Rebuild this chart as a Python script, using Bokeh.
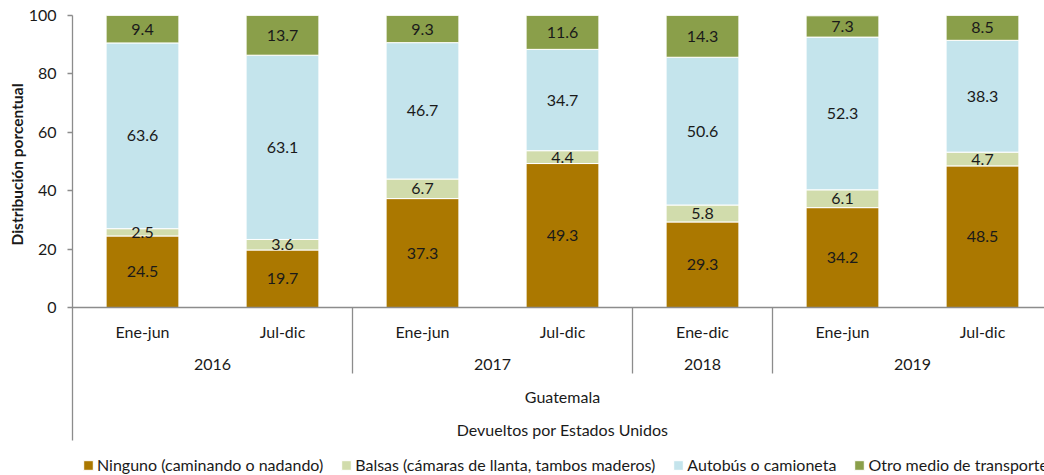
from bokeh.plotting import figure
from bokeh.models import (Range1d, FixedTicker, Legend, LegendItem, Title,
                          ColumnDataSource, Span)
from bokeh.core.properties import value
from bokeh.embed import file_html
from bokeh.resources import INLINE

# ---------------- data ----------------
years = ["2016", "2017", "2018", "2019"]
year_periods = [2, 2, 1, 2]
periods = ["Ene-jun", "Jul-dic", "Ene-jun", "Jul-dic", "Ene-dic", "Ene-jun", "Jul-dic"]
country = "Guatemala"
group = "Devueltos por Estados Unidos"

series = ["Ninguno (caminando o nadando)",
          "Balsas (cámaras de llanta, tambos maderos)",
          "Autobús o camioneta",
          "Otro medio de transporte"]
ninguno = [24.5, 19.7, 37.3, 49.3, 29.3, 34.2, 48.5]
balsas = [2.5, 3.6, 6.7, 4.4, 5.8, 6.1, 4.7]
autobus = [63.6, 63.1, 46.7, 34.7, 50.6, 52.3, 38.3]
otro = [9.4, 13.7, 9.3, 11.6, 14.3, 7.3, 8.5]
y_ticks = [0, 20, 40, 60, 80, 100]
y_title = "Distribución porcentual"

colors = ["#AB7800", "#D1DCAC", "#C4E4EC", "#8A9F4A"]
FONT = "Lato"
TXT = "#1a1a1a"
GRID = "#8c8c8c"

# ---------------- figure ----------------
W, H = 1044, 475
LEFT, TOP = 72, 15
PX_PER_CAT = 140.0
PX_PER_UNIT = 2.92
frame_w = W - LEFT
frame_h = H - TOP
y_top = 100
y_bottom = y_top - frame_h / PX_PER_UNIT
p = figure(width=W, height=H, output_backend="svg", toolbar_location=None,
           x_range=Range1d(0, frame_w / PX_PER_CAT), y_range=Range1d(y_bottom, y_top),
           x_axis_location=None, min_border_left=LEFT, min_border_right=0,
           min_border_top=TOP, min_border_bottom=0)
p.outline_line_color = None
p.xgrid.visible = False
p.ygrid.visible = False

xs = [i + 0.5 for i in range(len(periods))]
src = ColumnDataSource(dict(x=xs, s0=ninguno, s1=balsas, s2=autobus, s3=otro))
rs = p.vbar_stack(["s0", "s1", "s2", "s3"], x="x", width=0.52, source=src,
                  color=colors, line_color="white", line_width=1)

# value labels at the middle of every segment
lx, ly, lt = [], [], []
for i, x in enumerate(xs):
    base = 0.0
    for vals in (ninguno, balsas, autobus, otro):
        v = vals[i]
        lx.append(x)
        ly.append(base + v / 2)
        lt.append(f"{v:.1f}")
        base += v
p.text(x=lx, y=ly, text=lt, text_align="center", text_baseline="middle",
       text_font=value(FONT), text_font_size="16px", text_color=TXT)

# category axis (multi-level) drawn below y=0
p.add_layout(Span(location=0, dimension="width", line_color=GRID, line_width=1.3))
bounds = []
acc = 0
for n in year_periods:
    acc += n
    bounds.append(acc)
inner = [b for b in bounds[:-1]]
p.segment(x0=inner, x1=inner, y0=[0] * len(inner), y1=[-22.6] * len(inner),
          line_color=GRID, line_width=1.3)

p.text(x=xs, y=[-8.2] * len(xs), text=periods, text_align="center",
       text_baseline="middle", text_font=value(FONT), text_font_size="16px",
       text_color=TXT)
ycent = []
start = 0
for n in year_periods:
    ycent.append(start + n / 2)
    start += n
p.text(x=ycent, y=[-19.5] * len(ycent), text=years, text_align="center",
       text_baseline="middle", text_font=value(FONT), text_font_size="16px",
       text_color=TXT)
total = sum(year_periods)
p.text(x=[total / 2], y=[-30.5], text=[country], text_align="center",
       text_baseline="middle", text_font=value(FONT), text_font_size="16px",
       text_color=TXT)
p.text(x=[total / 2], y=[-41.8], text=[group], text_align="center",
       text_baseline="middle", text_font=value(FONT), text_font_size="16px",
       text_color=TXT)

# y axis
ya = p.yaxis[0]
ya.ticker = FixedTicker(ticks=y_ticks)
ya.bounds = (-45.55, 100)
ya.major_tick_out = 5
ya.major_tick_in = 0
ya.minor_tick_out = 0
ya.minor_tick_in = 0
ya.axis_line_color = GRID
ya.axis_line_width = 1.3
ya.major_tick_line_color = GRID
ya.major_tick_line_width = 1.3
ya.major_label_standoff = 11
ya.major_label_text_font = FONT
ya.major_label_text_font_size = "16px"
ya.major_label_text_color = TXT

# y title: bottom-aligned, lifted so that it sits at the 0..100 part of the axis
title_offset = frame_h - 230
p.add_layout(Title(text=y_title, align="left", offset=title_offset,
                   text_font=FONT, text_font_size="15.5px", text_font_style="bold",
                   text_color=TXT, standoff=0), "left")

legend = Legend(items=[LegendItem(label=s, renderers=[r]) for s, r in zip(series, rs)],
                orientation="horizontal", location=(10, 1),
                label_text_font=FONT, label_text_font_size="16px",
                label_text_color=TXT, glyph_width=12, glyph_height=12,
                label_standoff=3, spacing=17, padding=0, margin=0,
                label_height=14, border_line_color=None,
                background_fill_alpha=0)
p.add_layout(legend)

open("out.html", "w").write(file_html(p, INLINE))
